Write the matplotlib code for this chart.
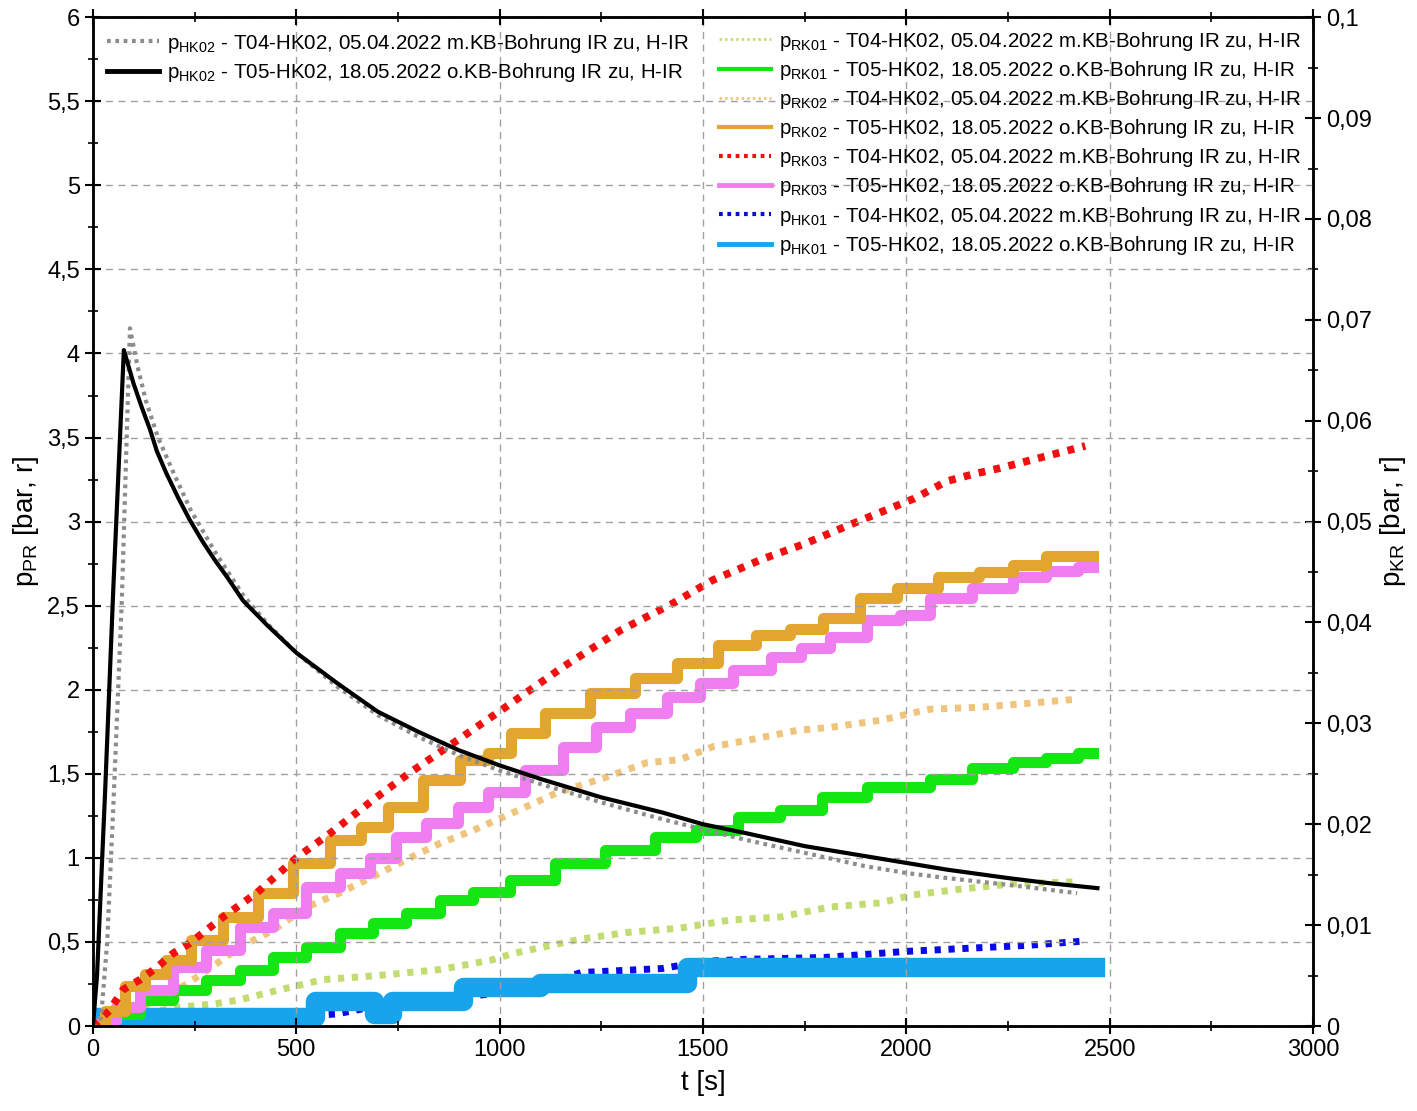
import matplotlib
matplotlib.use("Agg")
import matplotlib.pyplot as plt
from matplotlib.ticker import MultipleLocator, FuncFormatter
from matplotlib.lines import Line2D

plt.rcParams['font.family'] = ['Liberation Sans', 'DejaVu Sans']
plt.rcParams['mathtext.default'] = 'regular'

# p_HK02 (left axis, bar)
hk02_t04_t = [0, 20, 35, 50, 71, 91, 110, 130, 160, 200, 240, 300, 370, 430, 500, 600, 700, 800, 900, 1000, 1100,
              1250, 1400, 1500, 1600, 1750, 1900, 2000, 2100, 2250, 2420]
hk02_t04_p = [0, 0.05, 0.5, 1.3, 2.53, 4.15, 3.92, 3.72, 3.50, 3.28, 3.07, 2.82, 2.56, 2.39, 2.22, 2.02, 1.85, 1.72,
              1.61, 1.52, 1.44, 1.33, 1.23, 1.17, 1.11, 1.03, 0.95, 0.91, 0.88, 0.84, 0.79]
hk02_t05_t = [0, 10, 30, 50, 76, 100, 120, 140, 157, 180, 210, 238, 270, 300, 330, 369, 430, 500, 600, 700, 800, 900,
              1000, 1100, 1250, 1400, 1500, 1600, 1750, 1850, 2000, 2100, 2250, 2350, 2470]
hk02_t05_p = [0, 0.3, 1.4, 2.6, 4.02, 3.82, 3.68, 3.55, 3.42, 3.29, 3.14, 3.01, 2.88, 2.77, 2.67, 2.53, 2.38, 2.22,
              2.04, 1.87, 1.75, 1.64, 1.55, 1.47, 1.36, 1.27, 1.20, 1.15, 1.07, 1.03, 0.97, 0.93, 0.88, 0.85, 0.82]

# p_KR (right axis, bar)
rk01_t04_t = [0, 100, 200, 300, 361, 450, 566, 700, 853, 976, 1034, 1197, 1320, 1443, 1566, 1689, 1812, 1935, 2017, 2139, 2263, 2420]
rk01_t04_p = [0, 0.0010, 0.0018, 0.0022, 0.0026, 0.0035, 0.0046, 0.0050, 0.0056, 0.0065, 0.0072, 0.0086, 0.0093, 0.0097,
              0.0105, 0.0108, 0.0118, 0.0122, 0.0130, 0.0136, 0.0141, 0.0143]
rk01_t05_t = [0, 74, 157, 238, 320, 403, 484, 566, 649, 730, 811, 895, 976, 1075, 1197, 1320, 1443, 1525, 1647, 1731,
              1853, 1952, 2017, 2099, 2222, 2304, 2385, 2460]
rk01_t05_p = [0, 0.0012, 0.0026, 0.0036, 0.0046, 0.0056, 0.0068, 0.0078, 0.0092, 0.0102, 0.0112, 0.0125, 0.0133, 0.0145,
              0.0162, 0.0174, 0.0187, 0.0194, 0.0207, 0.0214, 0.0227, 0.0237, 0.0237, 0.0245, 0.0256, 0.0262, 0.0266, 0.0271]
rk02_t04_t = [0, 60, 140, 197, 280, 361, 443, 526, 607, 688, 771, 853, 935, 1008, 1140, 1264, 1362, 1443, 1525, 1607,
              1731, 1812, 1935, 2057, 2181, 2304, 2420]
rk02_t04_p = [0, 0.0005, 0.0023, 0.0033, 0.0055, 0.0078, 0.0095, 0.0118, 0.0132, 0.0148, 0.0165, 0.0181, 0.0194, 0.0207,
              0.0231, 0.0247, 0.0261, 0.0264, 0.0277, 0.0283, 0.0293, 0.0296, 0.0303, 0.0314, 0.0316, 0.0320, 0.0324]
rk02_t05_t = [0, 60, 100, 157, 200, 280, 361, 452, 534, 632, 688, 762, 861, 944, 1000, 1057, 1165, 1279, 1387, 1485,
              1591, 1672, 1755, 1837, 1935, 2017, 2139, 2220, 2304, 2385, 2460]
rk02_t05_p = [0, 0.0015, 0.0040, 0.0052, 0.0065, 0.0085, 0.0108, 0.0132, 0.0162, 0.0184, 0.0197, 0.0217, 0.0244, 0.0264,
              0.0271, 0.0290, 0.0310, 0.0330, 0.0345, 0.0360, 0.0378, 0.0388, 0.0394, 0.0404, 0.0424, 0.0434, 0.0445,
              0.0450, 0.0457, 0.0466, 0.0466]
rk03_t04_t = [0, 40, 74, 116, 157, 197, 238, 320, 403, 501, 583, 698, 779, 895, 1000, 1156, 1296, 1426, 1524, 1647,
              1750, 1850, 1935, 2020, 2099, 2164, 2230, 2345, 2440]
rk03_t04_p = [0, 0.0015, 0.0036, 0.0046, 0.0058, 0.0072, 0.0082, 0.0108, 0.0132, 0.0167, 0.0191, 0.0227, 0.0251, 0.0283,
              0.0312, 0.0356, 0.0392, 0.0419, 0.0442, 0.0463, 0.0478, 0.0495, 0.0509, 0.0523, 0.0540, 0.0547, 0.0553,
              0.0565, 0.0575]
rk03_t05_t = [0, 40, 74, 157, 238, 320, 403, 484, 566, 649, 713, 779, 861, 935, 1008, 1116, 1197, 1279, 1362, 1461,
              1525, 1623, 1714, 1770, 1853, 1952, 2017, 2099, 2222, 2304, 2385, 2460]
rk03_t05_p = [0, 0.0005, 0.0019, 0.0036, 0.0058, 0.0075, 0.0098, 0.0112, 0.0138, 0.0152, 0.0167, 0.0187, 0.0201, 0.0217,
              0.0232, 0.0254, 0.0277, 0.0296, 0.0310, 0.0326, 0.0340, 0.0353, 0.0366, 0.0375, 0.0386, 0.0402, 0.0407,
              0.0424, 0.0434, 0.0445, 0.0451, 0.0455]
hk01_t04_t = [0, 150, 300, 450, 600, 700, 800, 900, 1000, 1100, 1200, 1300, 1400, 1500, 1600, 1700, 1800, 1900, 2000,
              2100, 2200, 2300, 2430]
hk01_t04_p = [0, 0.0005, 0.0006, 0.0008, 0.0012, 0.0020, 0.0024, 0.0028, 0.0033, 0.0040, 0.0053, 0.0055, 0.0057, 0.0064,
              0.0066, 0.0067, 0.0068, 0.0071, 0.0074, 0.0076, 0.0078, 0.0080, 0.0084]
hk01_t05_t = [0, 545, 690, 735, 910, 1100, 1460, 2465]
hk01_t05_p = [0.0009, 0.0025, 0.0012, 0.0025, 0.0039, 0.0043, 0.0058, 0.0058]

labels_t04 = " - T04-HK02, 05.04.2022 m.KB-Bohrung IR zu, H-IR"
labels_t05 = " - T05-HK02, 18.05.2022 o.KB-Bohrung IR zu, H-IR"

c_gray = "#8c8c8c"
c_rk01_t04 = "#c3dc72"
c_rk01_t05 = "#14e614"
c_rk02_t04 = "#efc47c"
c_rk02_t05 = "#e2a630"
c_rk03_t04 = "#f01010"
c_rk03_t05 = "#f07ef0"
c_hk01_t04 = "#0a0ae6"
c_hk01_t05 = "#18a4ec"

dot = (0, (0.9, 1.1))

fig = plt.figure(figsize=(14.17, 11.11), dpi=100)
ax = fig.add_axes([0.0656, 0.0765, 0.861, 0.908])
ax2 = ax.twinx()

# right axis data (drawn below the left axis curves)
ax2.plot(rk01_t04_t, rk01_t04_p, color=c_rk01_t04, lw=5, ls=dot)
ax2.plot(rk02_t04_t, rk02_t04_p, color=c_rk02_t04, lw=5, ls=dot)
ax2.plot(hk01_t04_t, hk01_t04_p, color=c_hk01_t04, lw=5, ls=dot)
ax2.step(hk01_t05_t, hk01_t05_p, where="post", color=c_hk01_t05, lw=14)
ax2.step(rk01_t05_t, rk01_t05_p, where="mid", color=c_rk01_t05, lw=8)
ax2.step(rk03_t05_t, rk03_t05_p, where="mid", color=c_rk03_t05, lw=8)
ax2.step(rk02_t05_t, rk02_t05_p, where="mid", color=c_rk02_t05, lw=8)
ax2.plot(rk03_t04_t, rk03_t04_p, color=c_rk03_t04, lw=5.5, ls=dot)

# left axis data
ax.plot(hk02_t04_t, hk02_t04_p, color=c_gray, lw=3, ls=dot)
ax.plot(hk02_t05_t, hk02_t05_p, color="black", lw=3)

ax.set_zorder(ax2.get_zorder() + 1)
ax.patch.set_visible(False)

comma = FuncFormatter(lambda v, p: f"{v:g}".replace(".", ","))

ax.set_xlim(0, 3000)
ax.set_ylim(0, 6)
ax2.set_ylim(0, 0.1)
ax.xaxis.set_major_locator(MultipleLocator(500))
ax.xaxis.set_minor_locator(MultipleLocator(250))
ax.yaxis.set_major_locator(MultipleLocator(0.5))
ax.yaxis.set_minor_locator(MultipleLocator(0.25))
ax2.yaxis.set_major_locator(MultipleLocator(0.01))
ax2.yaxis.set_minor_locator(MultipleLocator(0.005))
ax.xaxis.set_major_formatter(comma)
ax.yaxis.set_major_formatter(comma)
ax2.yaxis.set_major_formatter(comma)

ax.tick_params(which="major", direction="inout", length=12, width=1.5, labelsize=17, top=True)
ax.tick_params(which="minor", direction="inout", length=7, width=1.2, top=True)
ax2.tick_params(which="major", direction="inout", length=12, width=1.5, labelsize=17)
ax2.tick_params(which="minor", direction="inout", length=7, width=1.2)
for a in (ax, ax2):
    for s in a.spines.values():
        s.set_linewidth(1.8)

ax.grid(True, which="major", color="#a0a0a0", ls=(0, (5, 4)), lw=1)

ax.set_xlabel("t [s]", fontsize=20, labelpad=6)
ax.set_ylabel("p$_{PR}$ [bar, r]", fontsize=20)
ax2.set_ylabel("p$_{KR}$ [bar, r]", fontsize=20)

h1 = [Line2D([], [], color=c_gray, lw=3, ls=dot), Line2D([], [], color="black", lw=3.5)]
l1 = ["p$_{HK02}$" + labels_t04, "p$_{HK02}$" + labels_t05]
leg1 = ax.legend(h1, l1, loc="upper left", frameon=False, fontsize=14.8, handlelength=2.5,
                 handletextpad=0.4, labelspacing=0.3, borderaxespad=0.3)
ax.add_artist(leg1)

h2 = [Line2D([], [], color=c_rk01_t04, lw=2, ls=dot), Line2D([], [], color=c_rk01_t05, lw=3),
      Line2D([], [], color=c_rk02_t04, lw=2, ls=dot), Line2D([], [], color=c_rk02_t05, lw=3),
      Line2D([], [], color=c_rk03_t04, lw=3, ls=dot), Line2D([], [], color=c_rk03_t05, lw=3.5),
      Line2D([], [], color=c_hk01_t04, lw=3, ls=dot), Line2D([], [], color=c_hk01_t05, lw=3.5)]
l2 = ["p$_{RK01}$" + labels_t04, "p$_{RK01}$" + labels_t05,
      "p$_{RK02}$" + labels_t04, "p$_{RK02}$" + labels_t05,
      "p$_{RK03}$" + labels_t04, "p$_{RK03}$" + labels_t05,
      "p$_{HK01}$" + labels_t04, "p$_{HK01}$" + labels_t05]
ax.legend(h2, l2, loc="upper right", frameon=False, fontsize=14.8, handlelength=2.5,
          handletextpad=0.4, labelspacing=0.3, borderaxespad=0.2)

fig.savefig("out.png", dpi=100)
